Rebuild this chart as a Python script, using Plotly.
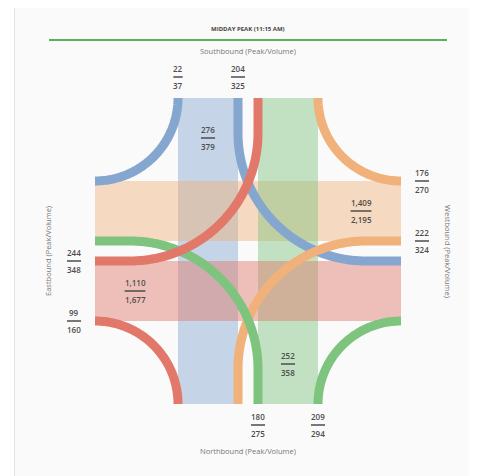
import numpy as np
import plotly.graph_objects as go

# ---------------- data ----------------
title = "MIDDAY PEAK (11:15 AM)"
approaches = ["Southbound", "Westbound", "Northbound", "Eastbound"]
right_peak = [22, 176, 209, 99]
right_volume = [37, 270, 294, 160]
through_peak = [276, 1409, 252, 1110]
through_volume = [379, 2195, 358, 1677]
left_peak = [204, 222, 180, 244]
left_volume = [325, 324, 275, 348]
colors = [(133, 166, 207), (240, 177, 122), (126, 196, 126), (225, 120, 106)]

# ---------------- geometry / style ----------------
W, H = 477, 476
PAGE_MARGIN = 8          # default body margin of the html page
CX, CY = 248, 251
INNER, OUTER, EXT = 10, 70, 153
R_LEFT = 128
BAND_ALPHA = 0.45
CURVE_W = 9
LABEL_OUT, LABEL_IN, NAME_OFF = 174, 113, 200
TEXT_COL = "#4d4d4d"
FONT = "Open Sans"


def rot(x, y, k):
    x = np.asarray(x, dtype=float)
    y = np.asarray(y, dtype=float)
    for _ in range(k):
        x, y = -y, x
    return CX + x, CY + y


def rgba(c, a):
    return f"rgba({c[0]},{c[1]},{c[2]},{a})"


fig = go.Figure()
shapes = []
annotations = []

# card + header
shapes.append(dict(type="rect", xref="x", yref="y", x0=14.5, y0=6.5, x1=W + 5, y1=H + 5,
                   fillcolor="#fafafa", line=dict(color="#e2e2e2", width=1), layer="below"))
shapes.append(dict(type="line", xref="x", yref="y", x0=49, x1=447, y0=40, y1=40,
                   line=dict(color="rgb(92,176,92)", width=2)))
annotations.append(dict(x=CX, y=29, text=f"<b>{title}</b>", showarrow=False,
                        font=dict(family=FONT, size=6, color="#444"),
                        xanchor="center", yanchor="middle"))

# through bands
for k in range(4):
    bx = [-OUTER, -INNER, -INNER, -OUTER, -OUTER]
    by = [-EXT, -EXT, EXT, EXT, -EXT]
    x, y = rot(bx, by, k)
    fig.add_trace(go.Scatter(x=x, y=y, mode="lines", fill="toself",
                             fillcolor=rgba(colors[k], BAND_ALPHA),
                             line=dict(width=0), hoverinfo="skip", showlegend=False))

# turning curves
t_right = np.linspace(0, np.pi / 2, 80)
r_right = EXT - OUTER
c = R_LEFT - INNER
t_left = np.linspace(np.pi, np.pi / 2, 100)
for k in range(4):
    rx = -EXT + r_right * np.cos(t_right)
    ry = -EXT + r_right * np.sin(t_right)
    x, y = rot(rx, ry, k)
    fig.add_trace(go.Scatter(x=x, y=y, mode="lines",
                             line=dict(color=rgba(colors[k], 1), width=CURVE_W, simplify=False),
                             hoverinfo="skip", showlegend=False))
for k in range(4):
    lx = np.concatenate([[-INNER], c + R_LEFT * np.cos(t_left), [EXT]])
    ly = np.concatenate([[-EXT], -c + R_LEFT * np.sin(t_left), [INNER]])
    x, y = rot(lx, ly, k)
    fig.add_trace(go.Scatter(x=x, y=y, mode="lines",
                             line=dict(color=rgba(colors[k], 1), width=CURVE_W, simplify=False),
                             hoverinfo="skip", showlegend=False))


def text_width(s):
    return sum(2.0 if ch == "," else 4.7 for ch in s)


def fraction(px, py, top, bottom):
    ts, bs = f"{top:,}", f"{bottom:,}"
    w = max(text_width(ts), text_width(bs))
    shapes.append(dict(type="line", xref="x", yref="y", x0=px - w / 2, x1=px + w / 2,
                       y0=py, y1=py, line=dict(color=TEXT_COL, width=1.5)))
    for s, dy in ((ts, -8.5), (bs, 8.5)):
        annotations.append(dict(x=px, y=py + dy, text=s, showarrow=False,
                                font=dict(family=FONT, size=8, color=TEXT_COL, weight=600),
                                xanchor="center", yanchor="middle"))


for k in range(4):
    x, y = rot([-OUTER], [-LABEL_OUT], k)
    fraction(float(x[0]), float(y[0]), right_peak[k], right_volume[k])
    x, y = rot([-INNER], [-LABEL_OUT], k)
    fraction(float(x[0]), float(y[0]), left_peak[k], left_volume[k])
    x, y = rot([-(OUTER + INNER) / 2], [-LABEL_IN], k)
    fraction(float(x[0]), float(y[0]), through_peak[k], through_volume[k])
    x, y = rot([0], [-NAME_OFF], k)
    angle = {0: 0, 1: 90, 2: 0, 3: -90}[k]
    annotations.append(dict(x=float(x[0]), y=float(y[0]), text=f"{approaches[k]} (Peak/Volume)",
                            showarrow=False, textangle=angle,
                            font=dict(family=FONT, size=7.5, color="#777"),
                            xanchor="center", yanchor="middle"))

fig.update_layout(
    width=W - PAGE_MARGIN, height=H - PAGE_MARGIN, autosize=False,
    margin=dict(l=0, r=0, t=0, b=0, pad=0),
    paper_bgcolor="white", plot_bgcolor="white",
    xaxis=dict(range=[PAGE_MARGIN, W], visible=False, fixedrange=True),
    yaxis=dict(range=[H, PAGE_MARGIN], visible=False, fixedrange=True),
    shapes=shapes, annotations=annotations, showlegend=False,
)

fig.write_html("out.html", config={"displayModeBar": False})
